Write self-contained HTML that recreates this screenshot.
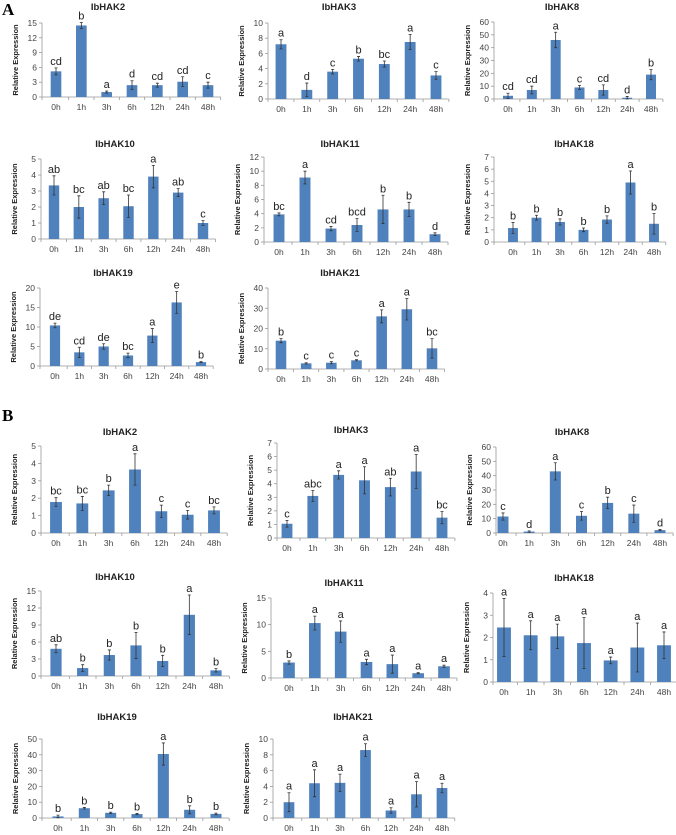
<!DOCTYPE html>
<html><head><meta charset="utf-8">
<style>
html,body{margin:0;padding:0;background:#fff;}
svg{display:block;font-family:"Liberation Sans",sans-serif;}
</style></head>
<body>
<svg id="fig" width="676" height="835" viewBox="0 0 676 835">
<text x="2" y="15" font-family="Liberation Serif,serif" font-weight="bold" font-size="17">A</text>
<text x="2" y="421" font-family="Liberation Serif,serif" font-weight="bold" font-size="17">B</text>
</svg>
<script>
const categories = ["0h","1h","3h","6h","12h","24h","48h"];

const aHak2Vals = [5.2,14.5,1.0,2.4,2.4,3.1,2.4];
const aHak2Errs = [0.7,0.6,0.2,0.9,0.4,1.0,0.6];
const aHak2Letters = ["cd","b","a","d","cd","cd","c"];
const aHak3Vals = [7.2,1.2,3.6,5.3,4.6,7.5,3.1];
const aHak3Errs = [0.6,0.9,0.3,0.3,0.4,1.0,0.5];
const aHak3Letters = ["a","d","c","b","bc","a","c"];
const aHak8Vals = [2.5,7,46,9,7,1,19];
const aHak8Errs = [2,3,6,1.5,4,1,4];
const aHak8Letters = ["cd","cd","a","c","cd","d","b"];
const aHak10Vals = [3.35,2.0,2.55,2.05,3.9,2.9,1.0];
const aHak10Errs = [0.6,0.7,0.4,0.7,0.7,0.25,0.15];
const aHak10Letters = ["ab","bc","ab","bc","a","ab","c"];
const aHak11Vals = [3.9,9.1,1.9,2.4,4.6,4.6,1.1];
const aHak11Errs = [0.2,0.9,0.3,0.9,2.0,1.0,0.2];
const aHak11Letters = ["bc","a","cd","bcd","b","b","d"];
const aHak18Vals = [1.15,2.0,1.65,1.0,1.85,4.9,1.5];
const aHak18Errs = [0.45,0.2,0.25,0.15,0.3,0.95,0.85];
const aHak18Letters = ["b","b","b","b","b","a","b"];
const aHak19Vals = [10.4,3.5,5.0,2.7,7.8,16.3,1.0];
const aHak19Errs = [0.6,1.3,0.7,0.6,1.8,2.8,0.1];
const aHak19Letters = ["de","cd","de","bc","a","e","b"];
const aHak21Vals = [14,2.8,3.1,4.3,26,29.5,10.2];
const aHak21Errs = [1,0.3,0.5,0.3,3.2,5.3,4.8];
const aHak21Letters = ["b","c","c","c","a","a","bc"];

const bHak2Vals = [1.78,1.7,2.45,3.65,1.25,1.05,1.3];
const bHak2Errs = [0.25,0.4,0.3,0.9,0.35,0.25,0.2];
const bHak2Letters = ["bc","bc","b","a","c","c","bc"];
const bHak3Vals = [1.05,3.1,4.65,4.25,3.75,4.9,1.5];
const bHak3Errs = [0.25,0.4,0.3,1.0,0.65,1.25,0.45];
const bHak3Letters = ["c","abc","a","a","ab","a","bc"];
const bHak8Vals = [11.5,1,43,12,21,13.5,2];
const bHak8Errs = [2.5,0.5,6,3,4,6,0.4];
const bHak8Letters = ["c","d","a","c","b","c","d"];
const bHak10Vals = [4.8,1.4,3.7,5.4,2.65,10.8,1.0];
const bHak10Errs = [0.7,0.6,0.9,2.3,1.0,3.5,0.3];
const bHak10Letters = ["ab","b","b","b","b","a","b"];
const bHak11Vals = [2.9,10.3,8.7,3.0,2.6,0.9,2.2];
const bHak11Errs = [0.3,1.3,2.0,0.5,1.7,0.1,0.2];
const bHak11Letters = ["b","a","a","a","a","a","a"];
const bHak18Vals = [2.45,2.1,2.05,1.75,0.97,1.55,1.65];
const bHak18Errs = [1.3,0.65,0.55,1.15,0.15,1.1,0.6];
const bHak18Letters = ["a","a","a","a","a","a","a"];
const bHak19Vals = [1,6.2,3.3,2.5,40.5,5.2,2.6];
const bHak19Errs = [0.8,0.5,0.4,0.4,7,2.5,0.5];
const bHak19Letters = ["b","b","b","b","a","b","b"];
const bHak21Vals = [2.0,4.4,4.45,8.6,0.95,3.0,3.8];
const bHak21Errs = [1.2,1.7,1.1,0.8,0.35,1.6,0.6];
const bHak21Letters = ["a","a","a","a","a","a","a"];

const aTicks2 = [0,3,6,9,12,15];
const aTicks3 = [0,2,4,6,8,10];
const aTicks8 = [0,10,20,30,40,50,60];
const aTicks10 = [0,1,2,3,4,5];
const aTicks11 = [0,2,4,6,8,10,12];
const aTicks18 = [0,1,2,3,4,5,6,7];
const aTicks19 = [0,5,10,15,20];
const aTicks21 = [0,10,20,30,40];
const bTicks2 = [0,1,2,3,4,5];
const bTicks3 = [0,1,2,3,4,5,6,7];
const bTicks8 = [0,10,20,30,40,50,60];
const bTicks10 = [0,3,6,9,12,15];
const bTicks11 = [0,5,10,15];
const bTicks18 = [0,1,2,3,4];
const bTicks19 = [0,10,20,30,40,50];
const bTicks21 = [0,2,4,6,8,10];

// layout: name, title, vals, errs, letters, ticks, axisX, firstX, lastX, topY, zeroY, titleX, titleY, barFrac
const panels = [
 ["a-ibhak2","IbHAK2",aHak2Vals,aHak2Errs,aHak2Letters,aTicks2,42,56,208,23,97,108,10,0.42],
 ["a-ibhak3","IbHAK3",aHak3Vals,aHak3Errs,aHak3Letters,aTicks3,268,281,436,23,99,339,10,0.42],
 ["a-ibhak8","IbHAK8",aHak8Vals,aHak8Errs,aHak8Letters,aTicks8,494,508,651,22,99,562,10,0.42],
 ["a-ibhak10","IbHAK10",aHak10Vals,aHak10Errs,aHak10Letters,aTicks10,41,54,203,159,239,115,147,0.42],
 ["a-ibhak11","IbHAK11",aHak11Vals,aHak11Errs,aHak11Letters,aTicks11,264,279,435,157,242,340,147,0.42],
 ["a-ibhak18","IbHAK18",aHak18Vals,aHak18Errs,aHak18Letters,aTicks18,494,513,654,157,242,574,147,0.42],
 ["a-ibhak19","IbHAK19",aHak19Vals,aHak19Errs,aHak19Letters,aTicks19,40,55,201,288,366,113,276,0.42],
 ["a-ibhak21","IbHAK21",aHak21Vals,aHak21Errs,aHak21Letters,aTicks21,268,281,432,288,369,340,276,0.42],
 ["b-ibhak2","IbHAK2",bHak2Vals,bHak2Errs,bHak2Letters,bTicks2,41,56,214,446,533,120,435,0.45],
 ["b-ibhak3","IbHAK3",bHak3Vals,bHak3Errs,bHak3Letters,bTicks3,277,287,442,443,538,351,433,0.42],
 ["b-ibhak8","IbHAK8",bHak8Vals,bHak8Errs,bHak8Letters,bTicks8,496,503,660,447,533,572,435,0.42],
 ["b-ibhak10","IbHAK10",bHak10Vals,bHak10Errs,bHak10Letters,bTicks10,41,56,216,591,676,115,580,0.42],
 ["b-ibhak11","IbHAK11",bHak11Vals,bHak11Errs,bHak11Letters,bTicks11,271,289,444,598,678,344,586,0.45],
 ["b-ibhak18","IbHAK18",bHak18Vals,bHak18Errs,bHak18Letters,bTicks18,493,504,664,593,682,574,581,0.52],
 ["b-ibhak19","IbHAK19",bHak19Vals,bHak19Errs,bHak19Letters,bTicks19,42,58,216,739,818,117,720,0.42],
 ["b-ibhak21","IbHAK21",bHak21Vals,bHak21Errs,bHak21Letters,bTicks21,273,289,442,739,818,353,720,0.42]
];

const NS = "http://www.w3.org/2000/svg";
const svg = document.getElementById("fig");
function mk(tag, attrs, parent){
  const e = document.createElementNS(NS, tag);
  for (const k in attrs) e.setAttribute(k, attrs[k]);
  parent.appendChild(e);
  return e;
}
panels.forEach(p => {
  const [name,title,vals,errs,letters,ticks,axX,x0,x6,topY,zeroY,tX,tY,frac] = p;
  const g = mk("g", {}, svg);
  
  
  const maxV = ticks[ticks.length-1];
  const yS = v => zeroY - (v / maxV) * (zeroY - topY);
  const step = (x6 - x0) / (categories.length - 1);
  const xS = i => x0 + i * step;
  const axEnd = x6 + step / 2;

  const t = mk("text", {x:tX, y:tY, "text-anchor":"middle", "font-size":"9.5", "font-weight":"bold", fill:"#222"}, g);
  t.textContent = title;
  
  

  const yl = mk("text", {x:0, y:0, transform:`translate(${axX-24},${(topY+zeroY)/2}) rotate(-90)`, "text-anchor":"middle", "font-size":"7.5", "font-weight":"bold", fill:"#222"}, g);
  yl.textContent = "Relative Expression";
  
  

  const ya = mk("line", {x1:axX, y1:topY, x2:axX, y2:zeroY, stroke:"#999", "stroke-width":"0.8"}, g);
  
  
  ticks.forEach(tv => {
    const y = yS(tv);
    mk("line", {x1:axX-3, y1:y, x2:axX, y2:y, stroke:"#999", "stroke-width":"0.8"}, g);
    const tl = mk("text", {x:axX-5, y:y+3, "text-anchor":"end", "font-size":"8.5", fill:"#444"}, g);
    tl.textContent = tv;
    
    
  });
  const xa = mk("line", {x1:axX, y1:zeroY, x2:axEnd, y2:zeroY, stroke:"#999", "stroke-width":"0.8"}, g);
  
  
  for (let i = 0; i <= categories.length; i++) {
    const x = i === 0 ? axX : xS(i) - step/2;
    mk("line", {x1:x, y1:zeroY, x2:x, y2:zeroY+3, stroke:"#999", "stroke-width":"0.8"}, g);
  }
  const bw = step * frac;
  categories.forEach((c, i) => {
    const x = xS(i);
    const yTop = yS(vals[i]);
    const r = mk("rect", {x:x-bw/2, y:yTop, width:bw, height:zeroY-yTop, fill:"#4f81bd"}, g);
    
    
    const eHi = yS(vals[i] + errs[i]), eLo = yS(Math.max(0, vals[i] - errs[i]));
    const eb = mk("path", {d:`M${x},${eHi}V${eLo}M${x-1.5},${eHi}H${x+1.5}M${x-1.5},${eLo}H${x+1.5}`, stroke:"#333", "stroke-width":"0.8", fill:"none"}, g);
    
    
    const lt = mk("text", {x:x, y:eHi-3, "text-anchor":"middle", "font-size":"11", fill:"#222"}, g);
    lt.textContent = letters[i];
    
    
    const xl = mk("text", {x:x, y:zeroY+13, "text-anchor":"middle", "font-size":"8.5", fill:"#444"}, g);
    xl.textContent = c;
    
    
  });
});
</script>
</body></html>
